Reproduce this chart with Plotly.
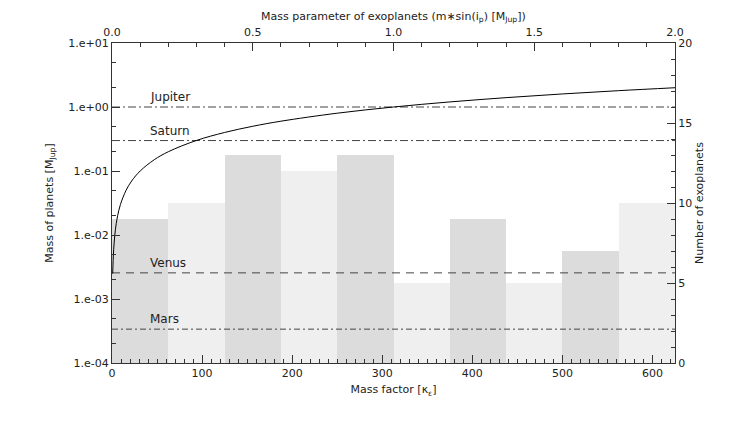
"""Exoplanet mass histogram with solar-system planet reference lines."""

import math
import plotly.graph_objects as go

# histogram of exoplanets vs mass factor
bin_left = [0, 62.5, 125, 187.5, 250, 312.5, 375, 437.5, 500, 562.5]
bin_width = [62.5] * 10
bin_count = [9, 10, 13, 12, 13, 5, 9, 5, 7, 10]
bin_colour = ['#dcdcdc', '#efefef'] * 5

# reference planets (mass in Jupiter masses)
planet_names = ['Jupiter', 'Saturn', 'Venus', 'Mars']
planet_mass = [1.0, 0.299, 0.00256, 0.000338]
planet_dash = ['8px,3px,2px,3px', '8px,3px,2px,3px', '8px,6px',
               '6px,3px,2px,3px']

curve_param = [0.0025, 0.004, 0.006, 0.01, 0.015, 0.02, 0.03, 0.05, 0.07,
               0.1, 0.15, 0.2, 0.3, 0.4, 0.5, 0.6, 0.8, 1.0, 1.2, 1.4, 1.6,
               1.8, 2.0]
curve_mass = [0.0025, 0.004, 0.006, 0.01, 0.015, 0.02, 0.03, 0.05, 0.07,
              0.1, 0.15, 0.2, 0.3, 0.4, 0.5, 0.6, 0.8, 1.0, 1.2, 1.4, 1.6,
              1.8, 2.0]

log_ticks = [1e-4, 1e-3, 1e-2, 1e-1, 1e0, 1e1]
log_ticktext = ['1.e-04', '1.e-03', '1.e-02', '1.e-01', '1.e+00', '1.e+01']

FONT = dict(family='DejaVu Sans', size=11, color='#222222')
AXCOL = '#333333'

fig = go.Figure()

# bars on base axes (bottom x, right y)
fig.add_trace(go.Bar(x=[l + w / 2 for l, w in zip(bin_left, bin_width)],
                     y=bin_count, width=bin_width,
                     marker_color=bin_colour, marker_line_width=0,
                     xaxis='x', yaxis='y', showlegend=False))

# planet reference lines
for name, m, d in zip(planet_names, planet_mass, planet_dash):
    fig.add_trace(go.Scatter(x=[0, 625], y=[m, m], mode='lines',
                             line=dict(color='#444444', width=1, dash=d),
                             xaxis='x', yaxis='y2', showlegend=False))
    # annotations on a log axis take log10 positions
    fig.add_annotation(x=40, y=math.log10(m), xref='x', yref='y2', text=name,
                       showarrow=False, xanchor='left', yanchor='bottom',
                       yshift=1, font=dict(family='DejaVu Sans', size=12,
                                            color='#222222'))

# mass parameter curve
fig.add_trace(go.Scatter(x=curve_param, y=curve_mass, mode='lines',
                         line=dict(color='black', width=1, shape='spline'),
                         xaxis='x2', yaxis='y2', showlegend=False))

# top axis title, placed by hand to sit higher than the axis standoff allows
fig.add_annotation(x=0.5, y=1, xref='paper', yref='paper', yshift=26,
                   text='Mass parameter of exoplanets '
                        '(m∗sin(i<sub>p</sub>) [M<sub>Jup</sub>])',
                   showarrow=False, xanchor='center', yanchor='middle',
                   font=FONT)

common = dict(showgrid=False, zeroline=False, showline=True,
              linecolor=AXCOL, linewidth=1, ticks='inside', tickcolor=AXCOL,
              ticklen=8, tickfont=FONT)

fig.update_layout(
    width=747, height=432,
    margin=dict(l=104, r=80, t=35, b=77),
    paper_bgcolor='white', plot_bgcolor='white',
    bargap=0,
    xaxis=dict(range=[0, 625], dtick=100, side='bottom',
               minor=dict(dtick=10, ticks='inside', ticklen=4,
                          tickcolor=AXCOL),
               title=dict(text='Mass factor [κ<sub>ε</sub>]', font=FONT,
                          standoff=6),
               **common),
    xaxis2=dict(range=[0, 2], dtick=0.5, tickformat='.1f', side='top',
                overlaying='x', ticklabelstandoff=2,
                minor=dict(dtick=0.1, ticks='inside', ticklen=4,
                           tickcolor=AXCOL),
                **common),
    yaxis=dict(range=[0, 20], dtick=5, side='right',
               minor=dict(dtick=1, ticks='inside', ticklen=4,
                          tickcolor=AXCOL),
               title=dict(text='Number of exoplanets', font=FONT,
                          standoff=4),
               **common),
    yaxis2=dict(type='log', range=[-4, 1], side='left', overlaying='y',
                tickvals=log_ticks, ticktext=log_ticktext,
                minor=dict(ticks='inside', ticklen=4, tickcolor=AXCOL),
                title=dict(text='Mass of planets [M<sub>Jup</sub>]',
                           font=FONT, standoff=12),
                **common),
)

fig.write_html("out.html")
